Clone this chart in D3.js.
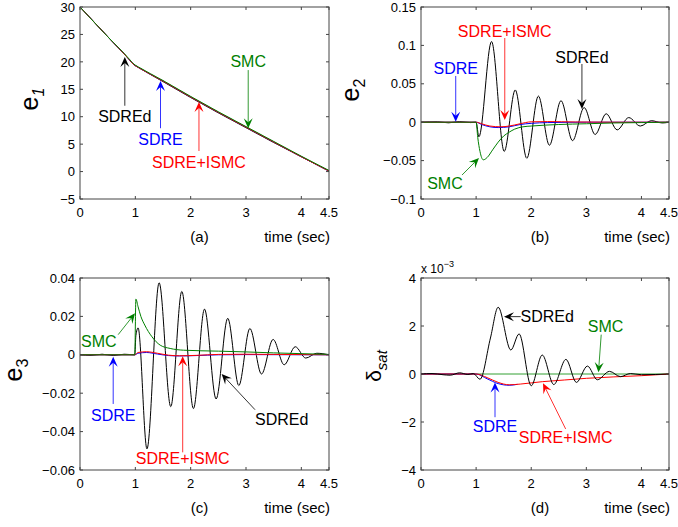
<!DOCTYPE html>
<html lang="en">
<head>
    <meta charset="utf-8"/>
    <title>SDRE errors</title>
    <script src="https://d3js.org/d3.v7.min.js"></script>
    <style>
        body { margin: 0; background: #fff; }
        svg { font-family: "Liberation Sans", Arial, sans-serif; }
        .box { fill: none; stroke: #444; stroke-width: 1; }
        .tick { stroke: #444; stroke-width: 1; }
        .line { fill: none; stroke-width: 1; }
    </style>
</head>
<body>
<svg width="678" height="527"></svg>
<script>
    // ---- data ----
    const timeTicks = [0, 1, 2, 3, 4, 4.5];
    const e1Ticks = [-5, 0, 5, 10, 15, 20, 25, 30];
    const e2Ticks = [-0.1, -0.05, 0, 0.05, 0.1, 0.15];
    const e3Ticks = [-0.06, -0.04, -0.02, 0, 0.02, 0.04];
    const dTicks = [-4, -2, 0, 2, 4];

    // e1
    const e1_SDREd = [[0, 30], [0.5, 24.6], [0.9, 20.3], [0.96, 19.6], [1.0, 19.3], [1.05, 19.0], [1.5, 16.4], [2, 13.5], [2.5, 10.7], [3, 8.0], [3.5, 5.3], [4, 2.7], [4.5, 0.1]];
    const e1_SDRE = [[0, 30], [0.5, 24.6], [0.9, 20.3], [0.96, 19.6], [1.0, 19.3], [1.05, 19.0], [1.5, 16.5], [2, 13.6], [2.5, 10.8], [3, 8.1], [3.5, 5.4], [4, 2.7], [4.5, 0.1]];
    const e1_ISMC = [[0, 30], [0.5, 24.6], [0.9, 20.3], [0.96, 19.6], [1.0, 19.3], [1.05, 19.0], [1.5, 16.5], [2, 13.6], [2.5, 10.8], [3, 8.1], [3.5, 5.4], [4, 2.7], [4.5, 0.1]];
    const e1_SMC = [[0, 30], [0.5, 24.6], [0.9, 20.4], [0.96, 19.7], [1.0, 19.4], [1.05, 19.1], [1.5, 16.6], [2, 13.7], [2.5, 10.9], [3, 8.2], [3.5, 5.5], [4, 2.8], [4.5, 0.2]];

    // e2
    const e2_SDREd = [[0, 0], [0.3, 0.0005], [0.5, -0.0008], [0.7, 0.0008], [0.9, -0.0005], [1.0, 0], [1.05, -0.019], [1.28, 0.105], [1.51, -0.038],
        [1.71, 0.042], [1.92, -0.047], [2.13, 0.034], [2.33, -0.030], [2.54, 0.028], [2.75, -0.024], [2.96, 0.019], [3.16, -0.016],
        [3.36, 0.011], [3.56, -0.010], [3.77, 0.006], [3.98, -0.005], [4.18, 0.002], [4.38, -0.001], [4.5, 0]];
    const e2_SDRE = [[0, 0], [1.0, 0], [1.1, -0.003], [1.25, -0.006], [1.4, -0.007], [1.6, -0.006], [1.8, -0.003], [2.0, -0.0015], [2.3, -0.0005], [3, 0], [4.5, 0]];
    const e2_ISMC = [[0, 0], [1.0, 0], [1.1, -0.002], [1.25, -0.005], [1.45, -0.006], [1.6, -0.005], [1.8, -0.002], [2.0, 0.0005], [2.3, 0.0008], [2.8, 0.0003], [3.5, 0], [4.5, 0]];
    const e2_SMC = [[0, 0], [1.0, 0], [1.03, -0.02], [1.07, -0.038], [1.13, -0.049], [1.2, -0.046], [1.3, -0.036], [1.4, -0.026], [1.5, -0.018],
        [1.6, -0.013], [1.7, -0.009], [1.85, -0.006], [2, -0.005], [2.5, -0.003], [3, -0.002], [3.5, -0.001], [4, -0.0005], [4.5, 0]];

    // e3
    const e3_SDREd = [[0, 0], [0.2, -0.0003], [0.4, 0.0003], [0.6, -0.0004], [0.8, 0.0003], [0.99, 0], [1.01, 0.010], [1.05, 0.014], [1.21, -0.049],
        [1.43, 0.0375], [1.64, -0.027], [1.84, 0.033], [2.05, -0.028], [2.25, 0.0238], [2.46, -0.023], [2.67, 0.019], [2.87, -0.016],
        [3.07, 0.0137], [3.28, -0.010], [3.49, 0.008], [3.69, -0.0052], [3.89, 0.0042], [4.08, -0.0017], [4.28, 0.0008], [4.5, 0]];
    const e3_SDRE = [[0, 0], [0.99, 0], [1.05, 0.0008], [1.2, 0.0012], [1.4, 0.0004], [1.6, -0.0004], [1.8, -0.0006], [2.1, -0.0004], [2.5, 0], [3, 0.0001], [4.5, 0]];
    const e3_ISMC = [[0, 0], [0.99, 0], [1.05, 0.0012], [1.2, 0.0016], [1.4, 0.0008], [1.6, -0.0002], [1.8, -0.0005], [2.1, -0.0003], [2.5, 0.0002], [3, 0.0003], [3.5, 0.0002], [4, 0.0001], [4.5, 0]];
    const e3_SMC = [[0, 0], [0.99, 0], [1.01, 0.029], [1.05, 0.025], [1.1, 0.020], [1.17, 0.0155], [1.3, 0.0094], [1.45, 0.005], [1.63, 0.0033],
        [1.87, 0.0024], [2.5, 0.0019], [3, 0.0015], [3.5, 0.001], [4, 0.0006], [4.5, 0.0002]];

    // delta_sat (x 1e-3)
    const d_SDREd = [[0, 0], [0.2, 0.02], [0.4, -0.03], [0.53, -0.05], [0.7, 0.05], [0.85, -0.02], [0.95, 0.02], [1.07, -0.22], [1.26, 1.5], [1.4, 2.78],
        [1.63, 1.0], [1.78, 1.67], [2.0, -0.49], [2.2, 0.79], [2.41, -0.44], [2.63, 0.61], [2.82, -0.35], [3.02, 0.33], [3.2, -0.24],
        [3.42, 0.11], [3.62, -0.11], [3.8, 0.02], [4.0, -0.03], [4.5, 0]];
    const d_SDRE = [[0, 0], [1.0, 0], [1.2, -0.2], [1.4, -0.4], [1.6, -0.47], [1.75, -0.43]];
    const d_ISMC = [[0, 0], [1.0, 0], [1.2, -0.15], [1.4, -0.35], [1.6, -0.45], [1.8, -0.42], [2.2, -0.32], [2.6, -0.25], [3, -0.18], [3.5, -0.12], [4, -0.07], [4.5, 0]];
    const d_SMC = [[0, 0], [4.5, 0]];

    const BLACK = "#000", BLUE = "#0000ff", RED = "#ff0000", GREEN = "#008000";

    // annotations: text at (t, v), arrow from -> to, in data units
    const e1Notes = [
        {text: "SDREd", color: BLACK, at: [0.81, 10], from: [0.81, 12], to: [0.81, 20.9]},
        {text: "SDRE", color: BLUE, at: [1.455, 5.9], from: [1.455, 7.9], to: [1.455, 16.5]},
        {text: "SDRE+ISMC", color: RED, at: [2.15, 1.75], from: [2.15, 3.75], to: [2.15, 12.7]},
        {text: "SMC", color: GREEN, at: [3.04, 20.2], from: [3.04, 18.5], to: [3.04, 7.9]}
    ];
    const e2Notes = [
        {text: "SDRE+ISMC", color: RED, at: [1.52, 0.119], from: [1.52, 0.1096], to: [1.52, 0.003]},
        {text: "SDRE", color: BLUE, at: [0.63, 0.0706], from: [0.63, 0.0602], to: [0.63, 0.0005]},
        {text: "SDREd", color: BLACK, at: [2.92, 0.085], from: [2.92, 0.0758], to: [2.92, 0.0172]},
        {text: "SMC", color: GREEN, at: [0.435, -0.079], from: [0.744, -0.0688], to: [1.052, -0.0466]}
    ];
    const e3Notes = [
        {text: "SMC", color: GREEN, at: [0.34, 0.007], from: [0.69, 0.0105], to: [0.994, 0.0216]},
        {text: "SDRE", color: BLUE, at: [0.60, -0.0317], from: [0.60, -0.0256], to: [0.60, -0.001]},
        {text: "SDRE+ISMC", color: RED, at: [1.856, -0.0539], from: [1.856, -0.0508], to: [1.856, -0.0008]},
        {text: "SDREd", color: BLACK, at: [3.645, -0.0334], from: [3.163, -0.0286], to: [2.56, -0.01]}
    ];
    const dNotes = [
        {text: "SDREd", color: BLACK, at: [2.29, 2.39], from: [1.81, 2.39], to: [1.506, 2.39]},
        {text: "SMC", color: GREEN, at: [3.35, 2.01], from: [3.27, 1.64], to: [3.22, 0.07]},
        {text: "SDRE", color: BLUE, at: [1.343, -2.18], from: [1.343, -1.8], to: [1.343, -0.35]},
        {text: "SDRE+ISMC", color: RED, at: [2.625, -2.64], from: [2.625, -2.29], to: [2.214, -0.39]}
    ];

    // ---- layout ----
    const panels = [
        {left: 80, top: 7, right: 329, bottom: 199, yDomain: [-5, 30], yTicks: e1Ticks, tag: "(a)",
            ylab: {x: 38, y: 99, main: "e", sub: "1", subItalic: true},
            series: [[e1_SDREd, BLACK, 1.6], [e1_SDRE, BLUE, 1], [e1_ISMC, RED, 1], [e1_SMC, GREEN, 1]], notes: e1Notes},
        {left: 421, top: 7, right: 669, bottom: 199, yDomain: [-0.1, 0.15], yTicks: e2Ticks, tag: "(b)",
            ylab: {x: 359, y: 90, main: "e", sub: "2"},
            series: [[e2_SDREd, BLACK, 1], [e2_SDRE, BLUE, 1], [e2_ISMC, RED, 1], [e2_SMC, GREEN, 1]], notes: e2Notes},
        {left: 80, top: 278, right: 329, bottom: 470, yDomain: [-0.06, 0.04], yTicks: e3Ticks, tag: "(c)",
            ylab: {x: 22, y: 370, main: "e", sub: "3"},
            series: [[e3_SDREd, BLACK, 1], [e3_SDRE, BLUE, 1], [e3_ISMC, RED, 1], [e3_SMC, GREEN, 1]], notes: e3Notes},
        {left: 421, top: 278, right: 669, bottom: 470, yDomain: [-4, 4], yTicks: dTicks, tag: "(d)",
            ylab: {x: 381, y: 366, main: "δ", sub: "sat", subItalic: true, small: true}, exponent: true,
            series: [[d_SMC, "#33a033", 1.8], [d_SDRE, BLUE, 1.2], [d_ISMC, RED, 1], [d_SDREd, BLACK, 1]], notes: dNotes}
    ];

    const svg = d3.select("svg");

    function fmt(d) {
        if (d === 0) return "0";
        return (d < 0 ? "\u2212" : "") + String(+Math.abs(d).toFixed(4));
    }

    function arrow(g, x0, y0, x1, y1, color) {
        const ang = Math.atan2(y1 - y0, x1 - x0);
        const L = 10, W = 4.5, N = 6;
        const c = Math.cos(ang), s = Math.sin(ang);
        const bx = x1 - N * c, by = y1 - N * s;
        g.append("line")
            .attr("x1", x0).attr("y1", y0).attr("x2", bx).attr("y2", by)
            .attr("stroke", color).attr("stroke-width", 1).attr("stroke-opacity", 0.8);
        const p = [
            [x1, y1],
            [x1 - L * c - W * s, y1 - L * s + W * c],
            [bx, by],
            [x1 - L * c + W * s, y1 - L * s - W * c]
        ];
        g.append("path").attr("d", "M" + p.join("L") + "Z").attr("fill", color);
    }

    panels.forEach(p => {
        const x = d3.scaleLinear().domain([0, 4.5]).range([p.left, p.right]);
        const y = d3.scaleLinear().domain(p.yDomain).range([p.bottom, p.top]);
        const g = svg.append("g");

        // lines
        const line = d3.line().x(d => x(d[0])).y(d => y(d[1])).curve(d3.curveMonotoneX);
        p.series.forEach(([data, color, w]) => {
            g.append("path").attr("class", "line").attr("d", line(data))
                .attr("stroke", color).attr("stroke-width", w);
        });

        // box + ticks
        g.append("rect").attr("class", "box")
            .attr("x", p.left).attr("y", p.top)
            .attr("width", p.right - p.left).attr("height", p.bottom - p.top);
        timeTicks.forEach(t => {
            g.append("line").attr("class", "tick").attr("x1", x(t)).attr("x2", x(t)).attr("y1", p.bottom).attr("y2", p.bottom - 3);
            g.append("line").attr("class", "tick").attr("x1", x(t)).attr("x2", x(t)).attr("y1", p.top).attr("y2", p.top + 3);
            g.append("text").attr("x", x(t)).attr("y", p.bottom + 18)
                .attr("text-anchor", "middle").attr("font-size", 13).text(String(t));
        });
        p.yTicks.forEach(v => {
            g.append("line").attr("class", "tick").attr("x1", p.left).attr("x2", p.left + 3).attr("y1", y(v)).attr("y2", y(v));
            g.append("line").attr("class", "tick").attr("x1", p.right).attr("x2", p.right - 3).attr("y1", y(v)).attr("y2", y(v));
            g.append("text").attr("x", p.left - 5).attr("y", y(v)).attr("dy", "0.36em")
                .attr("text-anchor", "end").attr("font-size", 13).text(fmt(v));
        });

        // x labels
        g.append("text").attr("x", (p.left + p.right) / 2 - 5).attr("y", p.bottom + 43)
            .attr("text-anchor", "middle").attr("font-size", 15).text(p.tag);
        g.append("text").attr("x", p.right + 1).attr("y", p.bottom + 43)
            .attr("text-anchor", "end").attr("font-size", 15).text("time (sec)");

        // y label
        const yl = g.append("text")
            .attr("transform", `translate(${p.ylab.x},${p.ylab.y}) rotate(-90)`)
            .attr("text-anchor", "middle");
        yl.append("tspan").attr("font-size", p.ylab.small ? 21 : 25).text(p.ylab.main);
        yl.append("tspan").attr("font-size", p.ylab.small ? 15 : 16).attr("dy", 6)
            .attr("font-style", p.ylab.subItalic ? "italic" : null).text(p.ylab.sub);

        if (p.exponent) {
            const ex = g.append("text").attr("x", p.left).attr("y", p.top - 5).attr("font-size", 12);
            ex.append("tspan").text("x 10");
            ex.append("tspan").attr("font-size", 9).attr("dy", -6).text("\u22123");
        }

        // annotations
        p.notes.forEach(n => {
            arrow(g, x(n.from[0]), y(n.from[1]), x(n.to[0]), y(n.to[1]), n.color);
            g.append("text").attr("x", x(n.at[0])).attr("y", y(n.at[1])).attr("dy", "0.36em")
                .attr("text-anchor", "middle")
                .attr("font-size", 16).attr("fill", n.color).text(n.text);
        });
    });
</script>
</body>
</html>
